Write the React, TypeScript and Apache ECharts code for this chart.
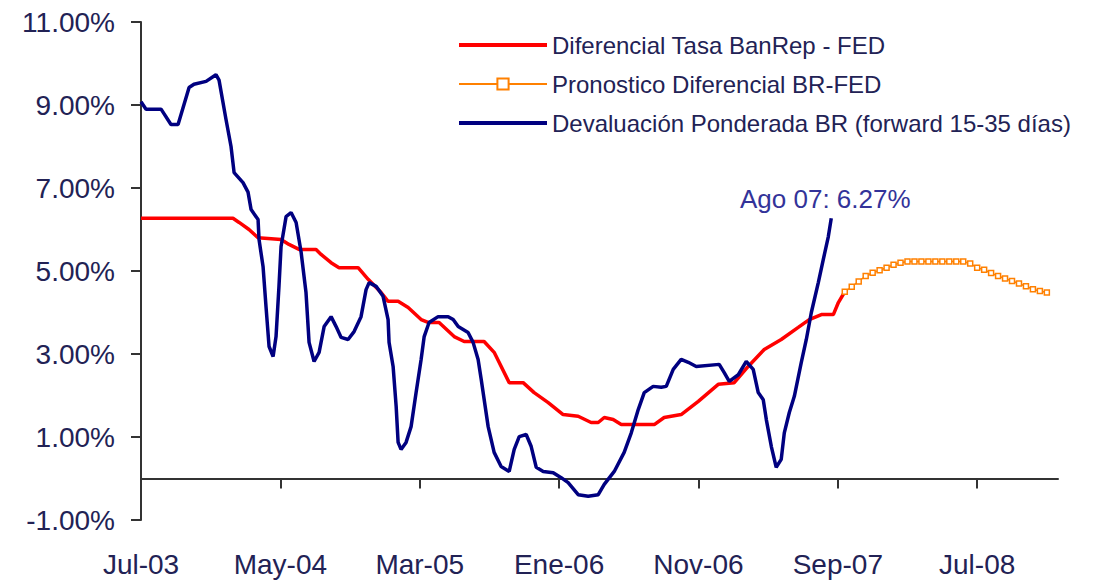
import React, { useEffect, useRef } from "react";
import * as echarts from "echarts";

// months since Jul-03
const xTickValues = [0, 10, 20, 30, 40, 50, 60];
const xTickLabels = ["Jul-03", "May-04", "Mar-05", "Ene-06", "Nov-06", "Sep-07", "Jul-08"];
const yTickValues = [-1, 1, 3, 5, 7, 9, 11];

const seriesNames = [
  "Diferencial Tasa BanRep - FED",
  "Pronostico Diferencial BR-FED",
  "Devaluación Ponderada BR (forward 15-35 días)",
];

// [month, %]
const diferencial: [number, number][] = [
  [0, 6.27], [6.6, 6.27], [7.04, 6.17], [7.75, 6.0], [8.4, 5.8], [10.05, 5.76],
  [10.62, 5.64], [11.34, 5.52], [12.56, 5.52], [12.92, 5.4], [13.64, 5.2], [14.21, 5.08],
  [15.58, 5.08], [16.3, 4.8], [17.23, 4.48], [17.73, 4.27], [18.45, 4.27], [19.17, 4.12],
  [20.1, 3.83], [20.6, 3.76], [21.39, 3.76], [22.47, 3.42], [23.19, 3.3], [24.62, 3.3],
  [25.34, 3.04], [26.42, 2.31], [27.42, 2.31], [28.21, 2.07], [29.22, 1.83], [30.29, 1.54],
  [31.37, 1.5], [32.3, 1.35], [32.81, 1.35], [33.24, 1.47], [33.88, 1.42], [34.46, 1.3],
  [36.83, 1.3], [37.54, 1.47], [38.76, 1.54], [39.99, 1.86], [41.42, 2.27], [42.57, 2.31],
  [43.57, 2.7], [44.72, 3.11], [45.94, 3.35], [47.16, 3.64], [47.95, 3.83], [48.82, 3.95],
  [49.68, 3.95], [50.04, 4.24], [50.5, 4.5],
];

const pronostico: [number, number][] = [
  [50.5, 4.5], [51.0, 4.62], [51.5, 4.75], [52.0, 4.88], [52.5, 4.96], [53.0, 5.02],
  [53.5, 5.08], [54.0, 5.15], [54.5, 5.2], [55.0, 5.23], [55.5, 5.23], [56.0, 5.23],
  [56.5, 5.23], [57.0, 5.23], [57.5, 5.23], [58.0, 5.23], [58.5, 5.23], [59.0, 5.23],
  [59.5, 5.18], [60.0, 5.08], [60.5, 5.03], [61.0, 4.95], [61.5, 4.88], [62.0, 4.82],
  [62.5, 4.76], [63.0, 4.7], [63.5, 4.63], [64.0, 4.56], [64.5, 4.52], [65.0, 4.48],
];

const devaluacion: [number, number][] = [
  [0, 9.08], [0.36, 8.9], [1.44, 8.9], [2.15, 8.53], [2.66, 8.53], [3.45, 9.42],
  [3.8, 9.5], [4.67, 9.57], [5.38, 9.73], [5.6, 9.6], [6.1, 8.65], [6.46, 8.0],
  [6.68, 7.37], [7.32, 7.13], [7.68, 6.9], [7.9, 6.48], [8.4, 6.24], [8.47, 5.76],
  [8.76, 5.1], [8.97, 4.14], [9.19, 3.18], [9.48, 2.94], [9.69, 3.42], [9.9, 4.63],
  [10.05, 5.59], [10.41, 6.31], [10.77, 6.41], [11.13, 6.17], [11.49, 5.45], [11.84, 4.48],
  [12.06, 3.28], [12.42, 2.82], [12.78, 3.04], [13.14, 3.66], [13.64, 3.9], [14.0, 3.66],
  [14.36, 3.4], [14.86, 3.35], [15.29, 3.54], [15.79, 3.9], [16.15, 4.55], [16.37, 4.72],
  [16.87, 4.63], [17.37, 4.39], [17.73, 3.83], [17.8, 3.28], [18.09, 2.7], [18.31, 1.73],
  [18.45, 0.87], [18.66, 0.7], [19.02, 0.87], [19.38, 1.25], [19.74, 2.07], [20.1, 2.87],
  [20.32, 3.42], [20.67, 3.76], [21.32, 3.9], [22.04, 3.9], [22.4, 3.83], [22.76, 3.66],
  [23.47, 3.52], [23.83, 3.28], [24.19, 2.87], [24.41, 2.39], [24.91, 1.25], [25.34, 0.63],
  [25.84, 0.29], [26.42, 0.17], [26.78, 0.7], [27.14, 1.01], [27.64, 1.06], [28.0, 0.77],
  [28.36, 0.27], [28.86, 0.17], [29.58, 0.14], [30.15, 0.02], [30.65, -0.1], [31.37, -0.39],
  [32.09, -0.43], [32.81, -0.39], [33.24, -0.14], [33.96, 0.17], [34.67, 0.63], [35.18, 1.1],
  [35.68, 1.66], [36.11, 2.07], [36.75, 2.22], [37.33, 2.2], [37.69, 2.22], [38.19, 2.63],
  [38.76, 2.87], [39.27, 2.8], [39.84, 2.7], [41.49, 2.75], [41.85, 2.55], [42.21, 2.34],
  [42.86, 2.5], [43.43, 2.82], [43.93, 2.63], [44.29, 2.07], [44.65, 1.9], [44.87, 1.42],
  [45.23, 0.77], [45.58, 0.27], [45.94, 0.46], [46.16, 1.1], [46.52, 1.59], [46.88, 1.98],
  [47.38, 2.8], [47.74, 3.35], [48.1, 4.0], [48.6, 4.72], [48.96, 5.28], [49.32, 5.83],
  [49.53, 6.27],
];

const annotationText = "Ago 07: 6.27%";

const FONT = "'Liberation Sans', Arial, sans-serif";
const TEXT = "#222255";
const LINE_ICON = "path://M0,0H88V4H0Z";

export default function App() {
  const ref = useRef<HTMLDivElement>(null);
  useEffect(() => {
    if (!ref.current) return;
    const chart = echarts.init(ref.current, null, { renderer: "svg" });
    const last = devaluacion[devaluacion.length - 1];
    chart.setOption({
      animation: false,
      backgroundColor: "#ffffff",
      grid: {
        left: 141,
        right: 48,
        top: 22,
        bottom: 60,
        containLabel: false,
        outerBoundsMode: "none",
      },
      legend: {
        orient: "vertical",
        left: 453,
        top: 26,
        itemWidth: 88,
        itemHeight: 14,
        itemGap: 11,
        textStyle: { fontSize: 24, fontFamily: FONT, color: TEXT, lineHeight: 28 },
        data: [
          { name: seriesNames[0], icon: LINE_ICON },
          { name: seriesNames[1] },
          { name: seriesNames[2], icon: LINE_ICON },
        ],
      },
      xAxis: {
        type: "value",
        min: 0,
        max: 65.8,
        axisLine: { onZero: true, lineStyle: { color: "#333", width: 2 } },
        axisTick: {
          show: true,
          length: 10,
          inside: false,
          customValues: xTickValues.slice(1),
          lineStyle: { color: "#333", width: 2 },
        },
        axisLabel: {
          customValues: xTickValues,
          margin: 30,
          fontSize: 28,
          fontFamily: FONT,
          color: TEXT,
          formatter: (v: number) => {
            const i = xTickValues.indexOf(Math.round(v));
            return i >= 0 ? xTickLabels[i] : "";
          },
        },
        splitLine: { show: false },
      },
      yAxis: {
        type: "value",
        min: -1,
        max: 11,
        axisLine: { show: true, onZero: false, lineStyle: { color: "#333", width: 2 } },
        axisTick: {
          show: true,
          length: 10,
          customValues: yTickValues,
          lineStyle: { color: "#333", width: 2 },
        },
        axisLabel: {
          customValues: yTickValues,
          margin: 26,
          fontSize: 28,
          fontFamily: FONT,
          color: TEXT,
          formatter: (v: number) => v.toFixed(2) + "%",
        },
        splitLine: { show: false },
      },
      series: [
        {
          name: seriesNames[0],
          type: "line",
          data: diferencial,
          symbol: "none",
          lineStyle: { color: "#ff0000", width: 3.5 },
          itemStyle: { color: "#ff0000" },
          z: 3,
        },
        {
          name: seriesNames[1],
          type: "line",
          data: pronostico,
          symbol: "rect",
          symbolSize: 5,
          lineStyle: { color: "#ff8000", width: 1.5 },
          itemStyle: { color: "#ffffff", borderColor: "#ff8000", borderWidth: 1.5 },
          z: 3,
        },
        {
          name: seriesNames[2],
          type: "line",
          data: devaluacion,
          symbol: "none",
          lineStyle: { color: "#000080", width: 3.5 },
          itemStyle: { color: "#000080" },
          z: 4,
          markPoint: {
            symbol: "circle",
            symbolSize: 1,
            itemStyle: { color: "rgba(0,0,0,0)" },
            data: [
              {
                coord: last,
                label: {
                  show: true,
                  formatter: annotationText,
                  position: "top",
                  distance: 6,
                  offset: [-6, 0],
                  fontSize: 26,
                  fontFamily: FONT,
                  color: "#333399",
                },
              },
            ],
          },
        },
      ],
    });
    return () => chart.dispose();
  }, []);
  return (
    <div
      ref={ref}
      style={{ position: "fixed", left: 0, top: 0, width: 1106, height: 580 }}
    />
  );
}
